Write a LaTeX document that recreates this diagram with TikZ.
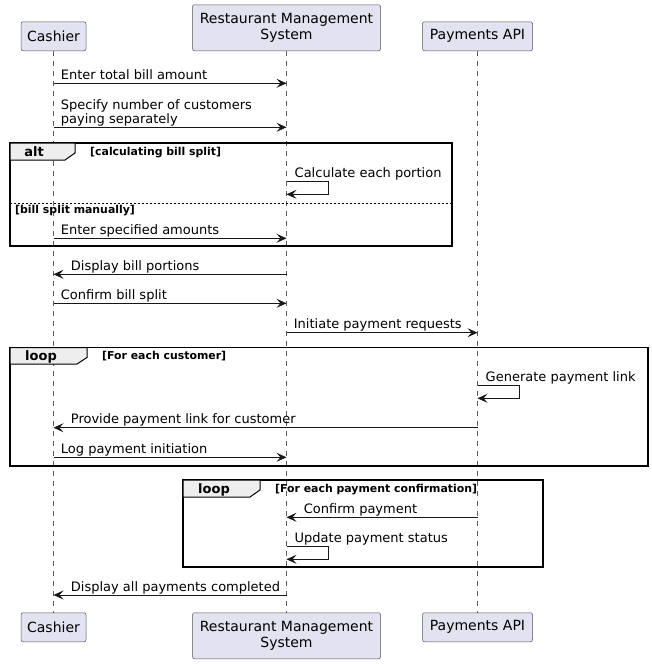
\documentclass[tikz,border=0pt]{standalone}
\usepackage{fontspec}
\setmainfont{DejaVu Sans}
\usetikzlibrary{positioning,arrows.meta}
\definecolor{partfill}{HTML}{E2E2F0}
\definecolor{partline}{HTML}{181818}
\definecolor{tabfill}{HTML}{EEEEEE}

\begin{document}
\begin{tikzpicture}[x=1pt,y=-1pt,>={Stealth[length=10pt,width=9pt,inset=4pt]},
    part/.style={draw=partline!75,fill=partfill,rounded corners=2pt,line width=0.5pt,
        inner sep=0,align=center,font=\fontsize{14}{16}\selectfont},
    lifeline/.style={draw=partline!70,line width=0.5pt,dash pattern=on 5pt off 5pt},
    msg/.style={->,draw=partline,line width=0.8pt},
    lbl/.style={anchor=south west,inner sep=0,text depth=0pt,align=left,
        font=\fontsize{13}{12.5}\selectfont},
    frame/.style={draw=black,line width=1.5pt},
    tab/.style={draw=black,fill=tabfill,line width=1pt},
    kind/.style={anchor=base,inner sep=0,font=\bfseries\fontsize{13}{15}\selectfont},
    guard/.style={anchor=base west,inner sep=0,font=\bfseries\fontsize{10.9}{12}\selectfont}]

    \useasboundingbox (0,0) rectangle (652,664);

    % PARTICIPANTS
    \node[part,minimum width=65,minimum height=29,anchor=south] (cashTop) at (53.5,51) {Cashier};
    \node[part,minimum width=188,minimum height=46,anchor=south] (rmsTop) at (286.5,51) {Restaurant Management\\System};
    \node[part,minimum width=110,minimum height=29,anchor=south] (payTop) at (477.5,51) {Payments API};

    \node[part,minimum width=65,minimum height=29,anchor=north] (cashBot) at (53.5,612.5) {Cashier};
    \node[part,minimum width=188,minimum height=46,anchor=north] (rmsBot) at (286.5,612.5) {Restaurant Management\\System};
    \node[part,minimum width=110,minimum height=29,anchor=north] (payBot) at (477.5,612.5) {Payments API};

    \draw[lifeline] (cashTop.south) -- (cashBot.north);
    \draw[lifeline] (rmsTop.south) -- (rmsBot.north);
    \draw[lifeline] (payTop.south) -- (payBot.north);

    % FRAMES
    \draw[frame] (10,143) rectangle (452,246);
    \draw[tab] (10,143) -- (75,143) -- (75,153) -- (65,160) -- (10,160) -- cycle;
    \node[kind] (altKind) at (34,156) {alt};
    \node[guard] (altGuard) at (90,155) {[calculating bill split]};
    \draw[line width=0.5pt,dash pattern=on 2pt off 2pt] (10,203.5) -- (452,203.5);
    \node[guard] (altElse) at (15,213) {[bill split manually]};

    \draw[frame] (10,347.5) rectangle (648,466);
    \draw[tab] (10,347.5) -- (87,347.5) -- (87,357.5) -- (77,364) -- (10,364) -- cycle;
    \node[kind] (loopKind) at (41,360.5) {loop};
    \node[guard] (loopGuard) at (102,359.5) {[For each customer]};

    \draw[frame] (183,480) rectangle (543,567);
    \draw[tab] (183,480) -- (260,480) -- (260,490) -- (250,497) -- (183,497) -- cycle;
    \node[kind] (payKind) at (214,493) {loop};
    \node[guard] (payGuard) at (275,492) {[For each payment confirmation]};

    % MESSAGES
    \coordinate (m1a) at (cashTop.south |- 0,83.3);
    \coordinate (m1b) at (rmsTop.south |- 0,83.3);
    \draw[msg] (m1a) -- (m1b) node[lbl,at start,xshift=7,yshift=3.5] {Enter total bill amount};

    \coordinate (m2a) at (cashTop.south |- 0,127.3);
    \coordinate (m2b) at (rmsTop.south |- 0,127.3);
    \draw[msg] (m2a) -- (m2b) node[lbl,at start,xshift=7,yshift=3.5] {Specify number of customers\\paying separately};

    \coordinate (m3a) at (rmsTop.south |- 0,181.7);
    \coordinate (m3b) at (rmsTop.south |- 0,194.3);
    \draw[msg] (m3a) -- ++(42,0) |- (m3b);
    \node[lbl] (m3t) at ([xshift=8,yshift=4]m3a) {Calculate each portion};

    \coordinate (m4a) at (cashTop.south |- 0,238.3);
    \coordinate (m4b) at (rmsTop.south |- 0,238.3);
    \draw[msg] (m4a) -- (m4b) node[lbl,at start,xshift=7,yshift=3.5] {Enter specified amounts};

    \coordinate (m5a) at (rmsTop.south |- 0,274.3);
    \coordinate (m5b) at (cashTop.south |- 0,274.3);
    \draw[msg] (m5a) -- (m5b) node[lbl,at end,xshift=17,yshift=3.5] {Display bill portions};

    \coordinate (m6a) at (cashTop.south |- 0,303.3);
    \coordinate (m6b) at (rmsTop.south |- 0,303.3);
    \draw[msg] (m6a) -- (m6b) node[lbl,at start,xshift=7,yshift=3.5] {Confirm bill split};

    \coordinate (m7a) at (rmsTop.south |- 0,332.7);
    \coordinate (m7b) at (payTop.south |- 0,332.7);
    \draw[msg] (m7a) -- (m7b) node[lbl,at start,xshift=7,yshift=3.5] {Initiate payment requests};

    \coordinate (m8a) at (payTop.south |- 0,385.7);
    \coordinate (m8b) at (payTop.south |- 0,398.3);
    \draw[msg] (m8a) -- ++(42,0) |- (m8b);
    \node[lbl] (m8t) at ([xshift=8,yshift=4]m8a) {Generate payment link};

    \coordinate (m9a) at (payTop.south |- 0,427.7);
    \coordinate (m9b) at (cashTop.south |- 0,427.7);
    \draw[msg] (m9a) -- (m9b) node[lbl,at end,xshift=17,yshift=3.5] {Provide payment link for customer};

    \coordinate (m10a) at (cashTop.south |- 0,457.3);
    \coordinate (m10b) at (rmsTop.south |- 0,457.3);
    \draw[msg] (m10a) -- (m10b) node[lbl,at start,xshift=7,yshift=3.5] {Log payment initiation};

    \coordinate (m11a) at (payTop.south |- 0,517.3);
    \coordinate (m11b) at (rmsTop.south |- 0,517.3);
    \draw[msg] (m11a) -- (m11b) node[lbl,at end,xshift=17,yshift=3.5] {Confirm payment};

    \coordinate (m12a) at (rmsTop.south |- 0,546.7);
    \coordinate (m12b) at (rmsTop.south |- 0,559.3);
    \draw[msg] (m12a) -- ++(42,0) |- (m12b);
    \node[lbl] (m12t) at ([xshift=8,yshift=4]m12a) {Update payment status};

    \coordinate (m13a) at (rmsTop.south |- 0,595);
    \coordinate (m13b) at (cashTop.south |- 0,595);
    \draw[msg] (m13a) -- (m13b) node[lbl,at end,xshift=17,yshift=3.5] {Display all payments completed};

\end{tikzpicture}
\end{document}
